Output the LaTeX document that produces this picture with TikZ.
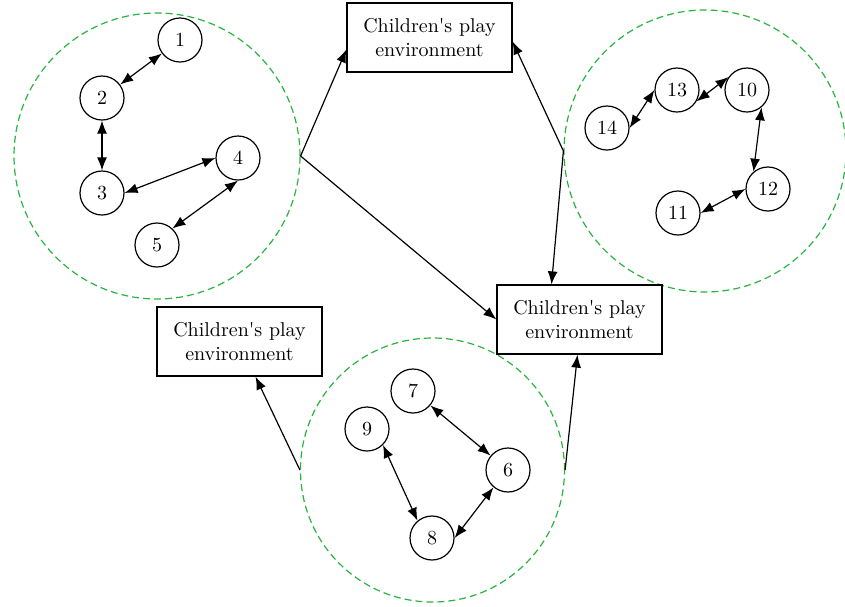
\documentclass[tikz,border=0pt]{standalone}
\usepackage{tikz}
\usepackage{textcomp}
\usetikzlibrary{arrows.meta,positioning}
\definecolor{zonegreen}{RGB}{40,180,60}

\begin{document}
\begin{tikzpicture}[
    x=0.5pt,
    y=-0.5pt,
    on grid,
    line width=0.6pt,
    >={Latex[length=6.5pt,width=5pt]},
    member node/.style={circle,draw,minimum size=22pt,inner sep=0pt},
    place node/.style={rectangle,draw,fill=white,minimum width=82.5pt,minimum height=34.5pt,align=center,inner sep=2pt},
    zone node/.style={circle,draw=zonegreen,dash pattern=on 3.5pt off 2pt,minimum size=#1,inner sep=0pt}]

  \useasboundingbox (0,0) rectangle (845,606);

  % the three groups
  \node[zone node=143pt] (ZoneA) at (157,156) {};
  \node[zone node=141pt] (ZoneB) at (705,151) {};
  \node[zone node=132pt] (ZoneC) at (432.5,470) {};

  \node[place node] (PlayTop) at (429.5,37.5) {Children\textquotesingle s play\\environment};
  \node[place node] (PlayRight) at (579.5,319.5) {Children\textquotesingle s play\\environment};
  \node[place node] (PlayLeft) at (239.5,341.5) {Children\textquotesingle s play\\environment};

  \node[member node] (N1) at (180,40) {1};
  \node[member node] (N2) [below left=29pt and 39pt of N1] {2};
  \node[member node] (N3) [below=47.5pt of N2] {3};
  \node[member node] (N4) [above right=17.5pt and 68pt of N3] {4};
  \node[member node] (N5) [below left=43.5pt and 40.5pt of N4] {5};

  \node[member node] (N13) at (677,90) {13};
  \node[member node] (N10) [right=35pt of N13] {10};
  \node[member node] (N14) [below left=19pt and 35pt of N13] {14};
  \node[member node] (N12) [below right=49.5pt and 10.5pt of N10] {12};
  \node[member node] (N11) [below left=12pt and 45pt of N12] {11};

  \node[member node] (N7) at (413,391) {7};
  \node[member node] (N9) [below left=19pt and 23pt of N7] {9};
  \node[member node] (N6) [below right=39.5pt and 47.5pt of N7] {6};
  \node[member node] (N8) [below left=34pt and 38pt of N6] {8};

  \path[<->]
    (N1) edge (N2)
    (N2) edge (N3)
    (N3.east) edge (N4.west)
    (N4.south) edge (N5.47)
    (N14.east) edge (N13.west)
    (N13.-30) edge (N10.145)
    (N10.-50) edge (N12.130)
    (N11.east) edge (N12.west)
    (N7) edge (N6)
    (N8.east) edge (N6.-130)
    (N9.-45) edge (N8.130);

  \path[->]
    (ZoneA.east) edge ([yshift=-6pt]PlayTop.west)
    (ZoneA.east) edge (PlayRight.west)
    (ZoneB.west) edge ([yshift=-2pt]PlayTop.east)
    (ZoneB.west) edge ([xshift=-14pt]PlayRight.north)
    (ZoneC.west) edge ([xshift=8pt]PlayLeft.south)
    (ZoneC.east) edge ([xshift=-1pt]PlayRight.south);
\end{tikzpicture}
\end{document}
